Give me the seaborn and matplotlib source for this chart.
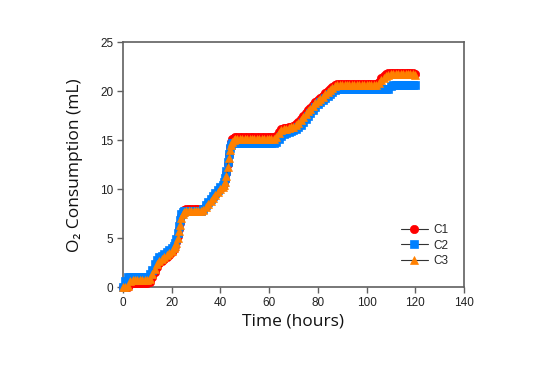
import matplotlib
matplotlib.use("Agg")
import matplotlib.pyplot as plt
import seaborn as sns

# elapsed time (hours); denser sampling on the two steep climbs
hours = [0, 1, 2, 3, 4, 5, 6, 7, 8, 9, 10, 11, 12, 13, 14, 15, 16, 17, 18, 19, 20, 21,
         21.5, 22, 22.5, 23, 23.5, 24, 24.5, 25,
         26, 27, 28, 29, 30, 31, 32, 33, 34, 35, 36, 37, 38, 39, 40, 41,
         41.5, 42, 42.5, 43, 43.5, 44, 44.5, 45, 45.5, 46,
         47, 48, 49, 50, 51, 52, 53, 54, 55, 56, 57, 58, 59, 60, 61, 62,
         63, 64, 65, 66, 67, 68, 69, 70, 71, 72, 73, 74, 75, 76, 77, 78, 79, 80,
         81, 82, 83, 84, 85, 86, 87, 88,
         89, 90, 91, 92, 93, 94, 95, 96, 97, 98, 99, 100, 101, 102, 103, 104,
         105, 106, 107, 108, 109,
         110, 111, 112, 113, 114, 115, 116, 117, 118, 119, 120]

# cumulative O2 consumption (mL)
c1 = [0, 0, 0, 0.3, 0.4, 0.4, 0.4, 0.4, 0.4, 0.4, 0.4, 0.5, 1.0, 1.6, 2.1, 2.5, 2.7, 2.9, 3.1, 3.3, 3.6, 3.9,
      4.2, 4.6, 5.2, 5.9, 6.6, 7.3, 7.7, 7.9,
      8.0, 8.0, 8.0, 8.0, 8.0, 8.0, 8.0, 8.0, 8.3, 8.6, 8.9, 9.2, 9.5, 9.8, 10.1, 10.3,
      10.5, 10.9, 11.7, 12.6, 13.5, 14.3, 14.8, 15.1, 15.2, 15.3,
      15.3, 15.3, 15.3, 15.3, 15.3, 15.3, 15.3, 15.3, 15.3, 15.3, 15.3, 15.3, 15.3, 15.3, 15.3, 15.3,
      15.4, 15.8, 16.1, 16.2, 16.2, 16.3, 16.4, 16.5, 16.7, 16.9, 17.2, 17.5, 17.8, 18.1, 18.3, 18.6, 18.9, 19.1,
      19.3, 19.5, 19.8, 20.0, 20.2, 20.4, 20.6, 20.7,
      20.7, 20.7, 20.7, 20.7, 20.7, 20.7, 20.7, 20.7, 20.7, 20.7, 20.7, 20.7, 20.7, 20.7, 20.7, 20.7,
      20.9, 21.3, 21.6, 21.8, 21.9,
      21.9, 21.9, 21.9, 21.9, 21.9, 21.9, 21.9, 21.9, 21.9, 21.9, 21.8]

c2 = [0, 0.6, 1.0, 1.0, 1.0, 1.0, 1.0, 1.0, 1.0, 1.0, 1.0, 1.3, 1.8, 2.4, 2.8, 3.1, 3.2, 3.4, 3.6, 3.8, 4.0, 4.2,
      4.5, 4.9, 5.5, 6.2, 6.9, 7.5, 7.7, 7.8,
      7.8, 7.8, 7.8, 7.8, 7.8, 7.8, 7.8, 8.0, 8.4, 8.7, 9.0, 9.3, 9.6, 9.9, 10.2, 10.4,
      10.7, 11.1, 11.9, 12.8, 13.6, 14.2, 14.5, 14.7, 14.7, 14.7,
      14.7, 14.7, 14.7, 14.7, 14.7, 14.7, 14.7, 14.7, 14.7, 14.7, 14.7, 14.7, 14.7, 14.7, 14.7, 14.7,
      14.8, 15.1, 15.4, 15.6, 15.7, 15.8, 15.9, 16.0, 16.1, 16.3, 16.6, 16.9, 17.2, 17.5, 17.8, 18.1, 18.4, 18.7,
      18.9, 19.1, 19.3, 19.5, 19.7, 19.9, 20.1, 20.2,
      20.2, 20.2, 20.2, 20.2, 20.2, 20.2, 20.2, 20.2, 20.2, 20.2, 20.2, 20.2, 20.2, 20.2, 20.2, 20.2,
      20.2, 20.2, 20.2, 20.2, 20.2,
      20.5, 20.6, 20.6, 20.6, 20.6, 20.6, 20.6, 20.6, 20.6, 20.6, 20.6]

c3 = [0, 0, 0.1, 0.6, 0.7, 0.7, 0.7, 0.7, 0.7, 0.7, 0.7, 0.8, 1.3, 1.9, 2.4, 2.7, 2.9, 3.1, 3.3, 3.5, 3.7, 4.0,
      4.2, 4.5, 5.0, 5.7, 6.4, 7.1, 7.5, 7.7,
      7.8, 7.8, 7.8, 7.8, 7.8, 7.8, 7.8, 7.9, 8.2, 8.5, 8.8, 9.1, 9.4, 9.7, 10.0, 10.2,
      10.4, 10.7, 11.4, 12.3, 13.2, 14.0, 14.5, 14.8, 15.0, 15.1,
      15.1, 15.1, 15.1, 15.1, 15.1, 15.1, 15.1, 15.1, 15.1, 15.1, 15.1, 15.1, 15.1, 15.1, 15.1, 15.1,
      15.3, 15.7, 16.0, 16.1, 16.1, 16.2, 16.3, 16.4, 16.6, 16.8, 17.1, 17.4, 17.7, 18.0, 18.2, 18.5, 18.8, 19.0,
      19.2, 19.4, 19.7, 19.9, 20.1, 20.3, 20.5, 20.6,
      20.6, 20.6, 20.6, 20.6, 20.6, 20.6, 20.6, 20.6, 20.6, 20.6, 20.6, 20.6, 20.6, 20.6, 20.6, 20.6,
      20.8, 21.1, 21.4, 21.6, 21.7,
      21.8, 21.8, 21.8, 21.8, 21.8, 21.8, 21.8, 21.8, 21.8, 21.8, 21.7]

labels = ["C1", "C2", "C3"]
colors = ["#ff0000", "#0080ff", "#ff8000"]
markers = ["o", "s", "^"]

sns.set_style("ticks")
plt.rcParams["font.family"] = ["Liberation Sans", "DejaVu Sans"]

fig = plt.figure(figsize=(5.34, 3.84), dpi=100)
ax = fig.add_axes([0.230, 0.252, 0.639, 0.638])

for vals, lab, col, mk in zip([c1, c2, c3], labels, colors, markers):
    sns.lineplot(x=hours, y=vals, ax=ax, label=lab, color="#333333", linewidth=0.8,
                 marker=mk, markersize=6, markerfacecolor=col, markeredgecolor=col,
                 markeredgewidth=0.5, clip_on=False, zorder=3)

ax.set_xlim(0, 140)
ax.set_ylim(0, 25)
ax.set_xticks([0, 20, 40, 60, 80, 100, 120, 140])
ax.set_yticks([0, 5, 10, 15, 20, 25])

for s in ax.spines.values():
    s.set_visible(True)
    s.set_color("#606060")
    s.set_linewidth(1.2)
ax.tick_params(direction="out", length=4, width=1, color="#606060",
               labelsize=8.5, labelcolor="#222222", pad=3)

lab_font = ["Open Sans", "DejaVu Sans"]
ax.set_xlabel("Time (hours)", fontsize=12.5, family=lab_font, labelpad=3, color="#111111")
ax.set_ylabel("O₂ Consumption (mL)", fontsize=12.5, family=lab_font, labelpad=12, color="#111111")

leg = ax.legend(loc="center", bbox_to_anchor=(0.885, 0.17), frameon=False, fontsize=8.5,
                handlelength=2.3, labelspacing=0.3, handletextpad=0.5, markerscale=1.0)

fig.savefig("out.png", dpi=100)
